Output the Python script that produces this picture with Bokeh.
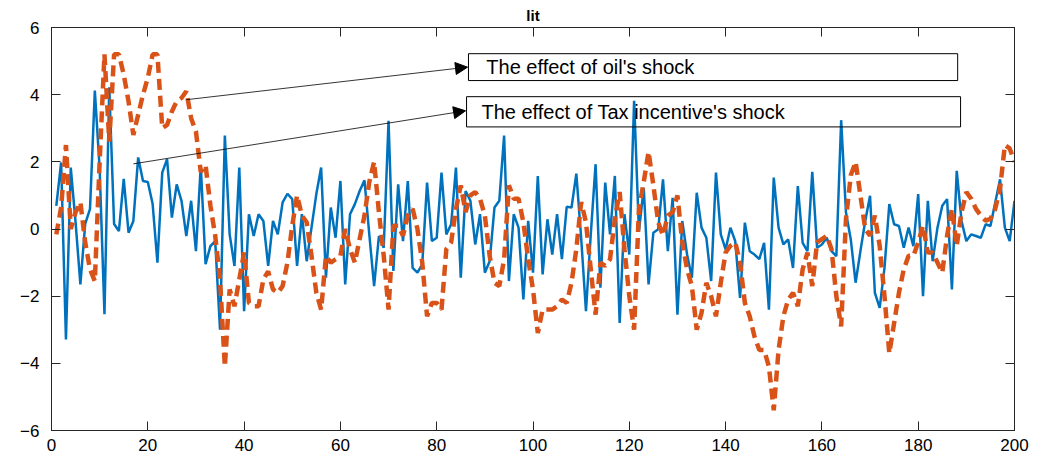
from bokeh.plotting import figure
from bokeh.models import (Range1d, LinearAxis, Arrow, NormalHead, BoxAnnotation, Label,
                          FixedTicker, CustomLabelingPolicy)
from bokeh.embed import file_html
from bokeh.resources import INLINE

x = list(range(1, 201))

oil_shock = [
    0.69, 1.98, -3.29, 1.83, 0.2, -1.65, 0.15, 0.6, 4.12, 1.8,
    -2.54, 4.22, 0.15, -0.06, 1.49, -0.11, 0.24, 2.13, 1.43, 1.4,
    0.75, -1.0, 1.68, 2.08, 0.34, 1.33, 0.84, -0.21, 0.84, -0.66,
    1.88, -1.05, -0.51, -0.36, -3.0, 2.78, -0.16, -1.1, 1.83, -2.45,
    0.44, -0.21, 0.44, 0.24, -1.1, 0.24, -0.16, 0.79, 1.05, 0.89,
    -1.1, 0.44, -0.96, 0.04, 1.04, 1.83, -1.45, 0.64, -0.26, 1.43,
    -1.65, 0.44, 0.74, 1.13, 1.45, -0.16, -1.7, -0.21, -0.56, 3.22,
    -1.25, 1.33, -0.36, 1.43, -1.16, -1.3, -1.05, 1.38, -0.36, -0.26,
    1.68, -0.16, 0.14, 1.83, -1.45, 1.13, 0.84, -0.46, 0.44, -1.3,
    -0.96, 0.64, 0.84, 2.78, -1.55, 0.44, 0.04, -2.1, 0.24, -1.3,
    1.58, -1.35, 0.29, -0.76, 0.44, -0.9, 0.66, 0.64, 1.65, -0.26,
    -2.45, -0.16, 1.93, -1.75, 1.38, -0.16, 1.58, -2.8, 0.44, -0.76,
    3.82, -0.06, 1.23, -1.65, -0.11, -0.01, 1.48, -0.66, 0.93, -2.55,
    0.24, -0.76, -1.45, 1.08, 0.04, -0.26, -1.55, 1.68, -0.16, -0.61,
    0.04, -0.36, -2.05, 0.19, -0.66, -0.76, -0.9, -0.41, -2.4, 1.53,
    0.04, -0.46, -0.31, -1.16, 1.28, -0.41, -0.66, 1.7, -0.56, -0.46,
    -0.26, -0.66, -0.81, 3.24, 0.49, -0.31, -1.6, -0.66, 0.24, 0.99,
    -1.9, -2.35, -1.16, 0.74, 0.14, 0.09, -0.56, 0.04, -0.51, 1.04,
    -2.0, 0.84, -0.96, 0.04, 0.69, 0.89, -1.8, 1.73, 0.24, -0.36,
    -0.16, -0.21, -0.26, 0.14, 0.09, 0.79, 1.48, 0.04, -0.36, 0.84,
]

tax_shock = [
    -0.16, 0.64, 2.5, 0.0, 0.5, 0.8, -0.4, -1.2, -1.55, 2.0,
    5.2, 2.6, 5.2, 5.2, 4.6, 3.8, 2.8, 3.4, 4.0, 4.5,
    5.2, 5.2, 3.0, 3.1, 3.5, 3.8, 3.9, 4.1, 3.3, 2.9,
    1.7, 1.9, 0.7, -0.2, -1.5, -4.1, -1.8, -2.3, -1.5, -0.7,
    -2.2, -2.3, -2.3, -1.5, -1.26, -1.8, -1.9, -1.7, -1.0, 0.1,
    1.0, 0.4, 0.2, -0.8, -1.9, -2.4, -0.8, -1.0, -0.9, -0.8,
    0.0, -0.6, -1.0, -0.3, 0.4, 1.4, 2.0, 0.5, -0.8, -2.4,
    0.1, 0.1, -0.2, 0.4, 0.6, 0.0, -1.0, -2.6, -2.2, -2.2,
    -2.4, -0.6, -0.4, 0.6, 1.3, 0.5, 1.0, 1.1, 0.9, 0.4,
    -0.8, -1.6, -1.7, -0.9, 1.3, 0.9, 0.9, 0.2, -0.9, -1.8,
    -3.1, -2.4, -2.4, -2.4, -2.3, -2.1, -2.2, -1.6, -0.6, 0.8,
    0.2, -1.2, -2.55, -1.0, -1.1, -0.9, 0.3, 1.1, -0.6, -2.0,
    -3.0, 0.6, 1.4, 2.3, 1.3, 0.2, -0.2, 0.4, 0.5, 1.0,
    -0.4, -1.2, -1.7, -3.0, -2.5, -1.6, -2.0, -2.6, -1.6, -0.7,
    -0.5, -0.4, -1.0, -2.2, -2.6, -3.2, -3.6, -3.6, -4.1, -5.4,
    -3.6, -2.6, -2.1, -1.9, -2.3, -1.2, -0.7, -1.7, -0.4, -0.3,
    -0.2, -0.6, -2.0, -2.9, 0.3, 1.6, 2.0, 1.0, 0.0, -0.2,
    0.4, -0.5, -2.0, -3.7, -2.8, -1.9, -1.2, -0.8, -0.8, -0.4,
    0.1, -0.7, -0.7, -1.0, -1.3, -0.2, 0.6, -0.5, 0.5, 1.1,
    0.9, 0.6, 0.4, 0.25, 0.3, 0.6, 1.2, 2.5, 2.4, 2.0,
]

x_ticks = [0, 20, 40, 60, 80, 100, 120, 140, 160, 180, 200]
y_ticks = [-6, -4, -2, 0, 2, 4, 6]

title_text = "lit"
label_oil = "The effect of oil's shock"
label_tax = "The effect of Tax incentive's shock"

FONT = "Liberation Sans"
AX = "#262626"

p = figure(width=1038, height=455, output_backend="svg", toolbar_location=None,
           x_range=Range1d(0, 200), y_range=Range1d(-6, 6),
           min_border_left=51, min_border_right=24, min_border_top=27, min_border_bottom=25)

p.title.text = title_text
p.title.align = "center"
p.title.text_font = FONT
p.title.text_font_size = "15px"
p.title.text_font_style = "bold"
p.title.text_color = "black"
p.title.standoff = 7
p.title.offset = 0

p.xgrid.visible = False
p.ygrid.visible = False
p.outline_line_color = AX
p.outline_line_width = 1

for ax in (p.xaxis[0], p.yaxis[0]):
    ax.major_label_text_font = FONT
    ax.major_label_text_font_size = "17px"
    ax.major_label_text_color = "black"
    ax.axis_line_color = AX
    ax.major_tick_line_color = AX
    ax.major_tick_in = 9
    ax.major_tick_out = 0
    ax.minor_tick_line_color = None
p.xaxis[0].ticker = FixedTicker(ticks=x_ticks)
p.yaxis[0].ticker = FixedTicker(ticks=y_ticks)
p.xaxis[0].major_label_standoff = 8
p.yaxis[0].major_label_standoff = 12

no_labels = CustomLabelingPolicy(code="return new indices.constructor(indices.size)")
no_labels2 = CustomLabelingPolicy(code="return new indices.constructor(indices.size)")
right = LinearAxis(ticker=FixedTicker(ticks=y_ticks), major_label_policy=no_labels,
                   major_label_text_font_size="0px",
                   major_label_standoff=0, major_tick_in=9, major_tick_out=0,
                   minor_tick_line_color=None, axis_line_color=AX, major_tick_line_color=AX)
top = LinearAxis(ticker=FixedTicker(ticks=x_ticks), major_label_policy=no_labels2,
                 major_label_text_font_size="0px",
                 major_label_standoff=0, major_tick_in=9, major_tick_out=0,
                 minor_tick_line_color=None, axis_line_color=AX, major_tick_line_color=AX)
p.add_layout(right, "right")
p.add_layout(top, "above")

p.line(x, oil_shock, line_color="#0072BD", line_width=2.5)
p.line(x, tax_shock, line_color="#D95319", line_width=4.5, line_dash="11 6")

# annotation boxes and arrows (positions in data units)
box1 = dict(left=86.6, right=188.2, bottom=4.42, top=5.22)
box2 = dict(left=86.2, right=188.8, bottom=3.04, top=3.94)
for b in (box1, box2):
    p.add_layout(BoxAnnotation(fill_alpha=0, line_color="black", line_width=1,
                               line_alpha=1, **b))

p.add_layout(Label(x=90.3, y=4.82, text=label_oil, text_font=FONT, text_font_size="20px",
                   text_baseline="middle", text_color="black"))
p.add_layout(Label(x=89.3, y=3.49, text=label_tax, text_font=FONT, text_font_size="20px",
                   text_baseline="middle", text_color="black"))

p.add_layout(Arrow(x_start=28.0, y_start=3.85, x_end=86.4, y_end=4.82, line_width=0.8,
                   end=NormalHead(size=12, fill_color="black", line_color="black")))
p.add_layout(Arrow(x_start=17.0, y_start=1.94, x_end=86.0, y_end=3.52, line_width=0.8,
                   end=NormalHead(size=12, fill_color="black", line_color="black")))

open("out.html", "w").write(file_html(p, INLINE))
